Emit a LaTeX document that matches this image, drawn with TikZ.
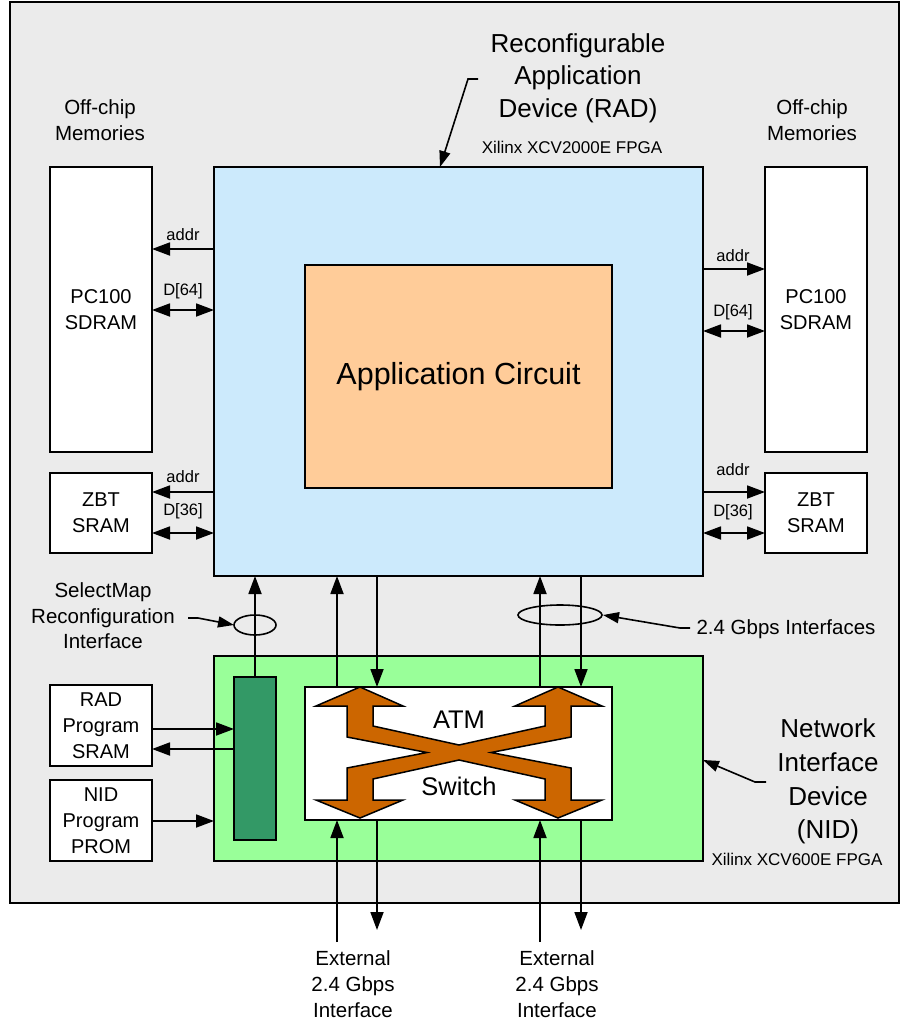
\documentclass[tikz,border=0pt]{standalone}
\usepackage{fontspec}
\setmainfont{Liberation Sans}
\usetikzlibrary{arrows.meta,calc}
\definecolor{bggray}{RGB}{235,235,235}
\definecolor{radblue}{RGB}{204,234,252}
\definecolor{apporange}{RGB}{255,204,153}
\definecolor{nidgreen}{RGB}{153,255,153}
\definecolor{dkgreen}{RGB}{51,153,102}
\definecolor{xorange}{RGB}{204,102,0}
\tikzset{
  box/.style={draw, line width=1.8pt, inner sep=0pt, outer sep=0pt, align=center, fill=white},
  arr/.style={line width=1.8pt, -{Triangle[length=18pt,width=13pt]}},
  darr/.style={line width=1.8pt, {Triangle[length=18pt,width=13pt]}-{Triangle[length=18pt,width=13pt]}},
  lead/.style={line width=1.6pt, -{Triangle[length=16pt,width=11pt]}},
  lbl/.style={align=center, font=\fontsize{20.5}{26}\selectfont, inner sep=0pt},
  big/.style={align=center, font=\fontsize{26}{32.5}\selectfont, inner sep=0pt},
  small/.style={font=\fontsize{16.5}{18}\selectfont, inner sep=0pt},
  memtxt/.style={font=\fontsize{20}{26}\selectfont},
}
\begin{document}
\begin{tikzpicture}[x=1pt,y=-1pt]
\useasboundingbox (0,0) rectangle (901,1026);
\fill[white] (0,0) rectangle (901,1026);
\draw[line width=1.5pt, fill=bggray] (10,2) rectangle (899,903);

% main boxes
\node[box, fill=radblue, minimum width=489pt, minimum height=409pt] (rad) at (458.5,371.5) {};
\node[box, fill=apporange, minimum width=307pt, minimum height=223pt, font=\fontsize{30.5}{34}\selectfont] (app) at (458.5,376.5) {Application Circuit};
\node[box, fill=nidgreen, minimum width=489pt, minimum height=205pt] (nid) at (458.5,758.5) {};
\node[box, fill=dkgreen, minimum width=42pt, minimum height=163pt] (dk) at (255,758.5) {};
\node[box, minimum width=307pt, minimum height=133pt] (atm) at (458.5,753.5) {};

% memories
\node[box, memtxt, minimum width=102pt, minimum height=285pt] (lsd) at (101,309.5) {PC100\\SDRAM};
\node[box, memtxt, minimum width=102pt, minimum height=80pt] (lzbt) at (101,513) {ZBT\\SRAM};
\node[box, memtxt, minimum width=102pt, minimum height=285pt] (rsd) at (816,309.5) {PC100\\SDRAM};
\node[box, memtxt, minimum width=102pt, minimum height=80pt] (rzbt) at (816,513) {ZBT\\SRAM};
\node[box, memtxt, minimum width=102pt, minimum height=81pt] (rps) at (101,725.5) {RAD\\Program\\SRAM};
\node[box, memtxt, minimum width=102pt, minimum height=81pt] (npp) at (101,820.5) {NID\\Program\\PROM};

% labels
\node[lbl] (offl) at (100,120) {Off-chip\\Memories};
\node[lbl] (offr) at (812,120) {Off-chip\\Memories};
\node[big] (radlbl) at (578,78) {Reconfigurable\\Application\\Device (RAD)};
\node[small, font=\fontsize{17}{18}\selectfont] (radfpga) at (572,147) {Xilinx XCV2000E FPGA};
\node[big, font=\fontsize{26}{33.7}\selectfont] (nidlbl) at (828,781.5) {Network\\Interface\\Device\\(NID)};
\node[small, font=\fontsize{17}{18}\selectfont] (nidfpga) at (797,859) {Xilinx XCV600E FPGA};
\node[lbl, font=\fontsize{20.5}{25.5}\selectfont] (sml) at (103,616) {SelectMap\\Reconfiguration\\Interface};
\node[lbl] (gbl) at (786,629) {2.4 Gbps Interfaces};
\node[lbl] (ext1) at (353,984) {External\\2.4 Gbps\\Interface};
\node[lbl] (ext2) at (557,984) {External\\2.4 Gbps\\Interface};

% memory arrows left
\node[small] (la1) at (183,235) {addr};
\draw[arr] (rad.west |- 0,249) -- (lsd.east |- 0,249);
\node[small] (ld1) at (183,291) {D[64]};
\draw[darr] (lsd.east |- 0,310) -- (rad.west |- 0,310);
\node[small] (la2) at (183,477) {addr};
\draw[arr] (rad.west |- 0,492) -- (lzbt.east |- 0,492);
\node[small] (ld2) at (183,511) {D[36]};
\draw[darr] (lzbt.east |- 0,533) -- (rad.west |- 0,533);

% memory arrows right
\node[small] (ra1) at (733,256) {addr};
\draw[arr] (rad.east |- 0,269) -- (rsd.west |- 0,269);
\node[small] (rd1) at (733,312) {D[64]};
\draw[darr] (rad.east |- 0,331) -- (rsd.west |- 0,331);
\node[small] (ra2) at (733,470) {addr};
\draw[arr] (rad.east |- 0,492) -- (rzbt.west |- 0,492);
\node[small] (rd2) at (733,512) {D[36]};
\draw[darr] (rad.east |- 0,533) -- (rzbt.west |- 0,533);

% ATM switch shape
\draw[line width=1.5pt, fill=xorange, line join=miter]
 (360,687) -- (403,706) -- (373,706) -- (373,726) -- (459,745) -- (545,726) -- (545,706)
 -- (515,706) -- (558,687) -- (602,706) -- (571,706) -- (571,737) -- (491,752.5)
 -- (571,768) -- (571,800) -- (602,800) -- (558,818) -- (515,800) -- (545,800)
 -- (545,779) -- (459,760) -- (373,779) -- (373,800) -- (403,800) -- (360,818)
 -- (316,800) -- (347,800) -- (347,768) -- (427,752.5) -- (347,737) -- (347,706)
 -- (316,706) -- cycle;
\node[font=\fontsize{25.5}{28}\selectfont] (atmt) at (459,720) {ATM};
\node[font=\fontsize{25.5}{28}\selectfont] (swt) at (459,786) {Switch};

% vertical connectors RAD <-> NID
\draw[arr] (dk.north) -- (dk.north |- rad.south);
\draw[arr] (atm.north -| 337,0) -- (rad.south -| 337,0);
\draw[arr] (rad.south -| 377,0) -- (atm.north -| 377,0);
\draw[arr] (atm.north -| 540,0) -- (rad.south -| 540,0);
\draw[arr] (rad.south -| 581,0) -- (atm.north -| 581,0);

% external connectors
\coordinate (e1u) at (337,942);
\coordinate (e1d) at (377,930);
\coordinate (e2u) at (540,942);
\coordinate (e2d) at (581,930);
\draw[arr] (e1u) -- (atm.south -| e1u);
\draw[arr] (atm.south -| e1d) -- (e1d);
\draw[arr] (e2u) -- (atm.south -| e2u);
\draw[arr] (atm.south -| e2d) -- (e2d);

% program memories
\draw[arr] (rps.east |- 0,729) -- (dk.west |- 0,729);
\draw[arr] (dk.west |- 0,749) -- (rps.east |- 0,749);
\draw[arr] (npp.east |- 0,821) -- (nid.west |- 0,821);

% ellipses
\draw[line width=1.6pt] (255,625) ellipse [x radius=21, y radius=10];
\coordinate (ell1) at (234,625);
\draw[line width=1.6pt] (560,615) ellipse [x radius=42, y radius=10];
\coordinate (ell2) at (603,615);

% leaders
\coordinate (s1) at (188,618);
\coordinate (g1) at (690,628);
\coordinate (r1) at (478,79);
\coordinate (n1) at (766,782);
\draw[lead] (s1) -- ++(10,0) -- (ell1);
\draw[lead] (g1) -- ++(-10,0) -- (ell2);
\draw[lead] (r1) -- ++(-10,0) -- (rad.north -| 440,0);
\draw[lead] (n1) -- ++(-11,0) -- (nid.east |- 0,760);
\end{tikzpicture}
\end{document}
